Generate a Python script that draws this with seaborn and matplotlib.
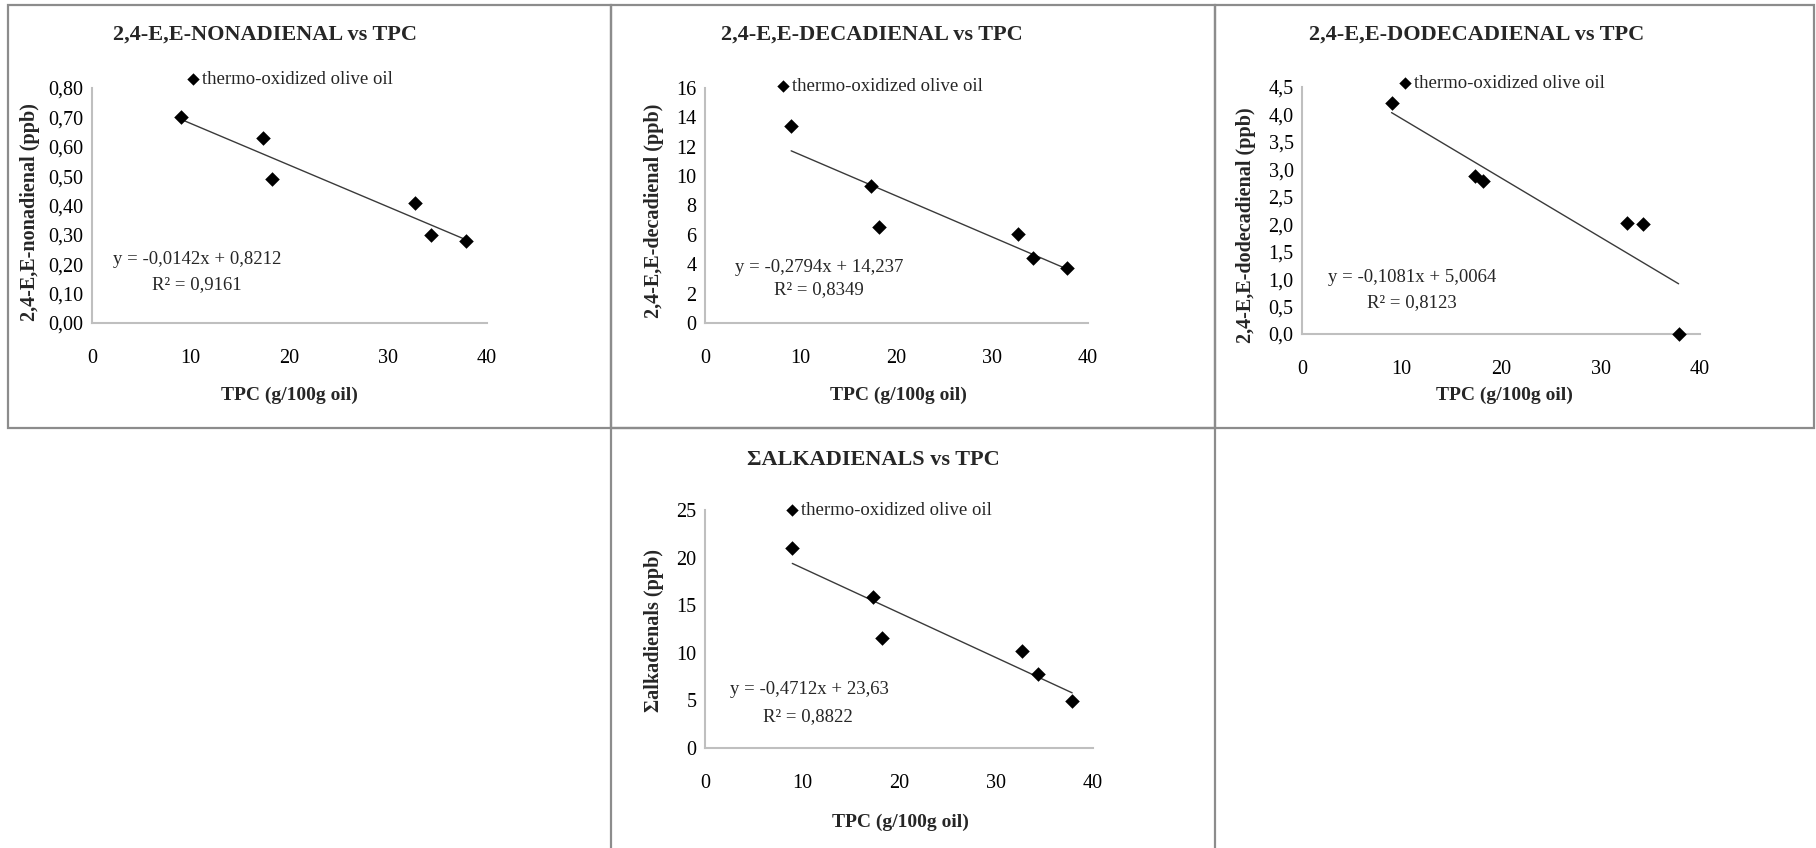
import numpy as np
import pandas as pd
import matplotlib
matplotlib.use("Agg")
import matplotlib.pyplot as plt
from matplotlib.ticker import FuncFormatter, MultipleLocator
from matplotlib.patches import Rectangle
import seaborn as sns

# ---------------- data ----------------
tpc = [9.0, 17.35, 18.2, 32.7, 34.3, 37.85]
nonadienal = [0.70, 0.63, 0.49, 0.41, 0.30, 0.28]
decadienal = [13.4, 9.35, 6.55, 6.05, 4.45, 3.75]
dodecadienal = [4.21, 2.88, 2.78, 2.02, 2.00, 0.0]
alkadienals = [21.05, 15.9, 11.55, 10.2, 7.8, 4.95]

titles = ["2,4-E,E-NONADIENAL vs TPC", "2,4-E,E-DECADIENAL vs TPC",
          "2,4-E,E-DODECADIENAL vs TPC", "\u03a3ALKADIENALS vs TPC"]
ylabels = ["2,4-E,E-nonadienal (ppb)", "2,4-E,E-decadienal (ppb)",
           "2,4-E,E-dodecadienal (ppb)", "\u03a3alkadienals (ppb)"]
xlabel = "TPC (g/100g oil)"
legend_label = "thermo-oxidized olive oil"
slopes = [-0.0142, -0.2794, -0.1081, -0.4712]
intercepts = [0.8212, 14.237, 5.0064, 23.63]
eq_texts = ["y = -0,0142x + 0,8212", "y = -0,2794x + 14,237",
            "y = -0,1081x + 5,0064", "y = -0,4712x + 23,63"]
r2_texts = ["R\u00b2 = 0,9161", "R\u00b2 = 0,8349", "R\u00b2 = 0,8123", "R\u00b2 = 0,8822"]
ymax = [0.8, 16, 4.5, 25]
ystep = [0.1, 2, 0.5, 5]
ydec = [2, 0, 1, 0]
xticks = [0, 10, 20, 30, 40]

series = [nonadienal, decadienal, dodecadienal, alkadienals]

# ---------------- layout (pixels) ----------------
W, H = 1816, 848
sns.set_theme(style="white")
plt.rcParams['font.family'] = ['Liberation Serif', 'DejaVu Serif']

fig = plt.figure(figsize=(W / 100, H / 100), dpi=100)
fig.patch.set_facecolor("white")

def fx(x):
    return x / W

def fy(y):
    return 1 - y / H

# panel boxes: (x0, y0, x1, y1)
boxes = [(8, 5, 611, 428), (611, 5, 1215, 428), (1215, 5, 1814, 428), (611, 428, 1215, 850)]
for (x0, y0, x1, y1) in boxes:
    fig.patches.append(Rectangle((fx(x0), fy(y1)), fx(x1 - x0), (y1 - y0) / H,
                                 transform=fig.transFigure, fill=False,
                                 edgecolor="#8c8c8c", linewidth=1.6, zorder=0))

# axes rectangles (x0, y0, x1, y1)
axes_px = [(92, 88, 487, 323), (705, 88, 1088, 323), (1302, 87, 1700, 334), (705, 510, 1093, 748)]
title_pos = [(265, 35), (872, 35), (1477, 35), (873, 460)]
leg_pos = [(193, 79), (783, 86), (1405, 83), (792, 510)]
ylab_pos = [(30, 212), (654, 211), (1246, 225), (654, 630)]
xlab_pos = [(289, 395), (898, 395), (1504, 395), (900, 822)]
eq_pos = [(197, 260), (819, 267), (1412, 277), (809, 690)]
r2_pos = [(197, 285), (819, 290), (1412, 303), (808, 717)]

axis_color = "#bfbfbf"

for i in range(4):
    x0, y0, x1, y1 = axes_px[i]
    ax = fig.add_axes([fx(x0), fy(y1), fx(x1 - x0), (y1 - y0) / H])
    df = pd.DataFrame({"TPC": tpc, "val": series[i]})
    sns.scatterplot(data=df, x="TPC", y="val", ax=ax, marker="D", s=55,
                    color="black", edgecolor="black", linewidth=0, zorder=3,
                    label=legend_label, clip_on=False)
    xs = np.array([min(tpc), max(tpc)])
    ax.plot(xs, slopes[i] * xs + intercepts[i], color="#3a3a3a", lw=1.0, zorder=2)

    ax.set_xlim(0, 40)
    ax.set_ylim(0, ymax[i])
    ax.set_xticks(xticks)
    ax.yaxis.set_major_locator(MultipleLocator(ystep[i]))
    d = ydec[i]
    ax.yaxis.set_major_formatter(FuncFormatter(lambda v, p, d=d: f"{v:.{d}f}".replace(".", ",")))
    ax.tick_params(axis="x", length=0, pad=19, labelsize=14.5, colors="black")
    ax.tick_params(axis="y", length=0, pad=6, labelsize=14.5, colors="black")
    for s in ["top", "right"]:
        ax.spines[s].set_visible(False)
    for s in ["left", "bottom"]:
        ax.spines[s].set_color(axis_color)
        ax.spines[s].set_linewidth(1.5)
    ax.set_xlabel("")
    ax.set_ylabel("")
    ax.set_facecolor("none")

    lx, ly = leg_pos[i]
    ax.legend(loc="center left", bbox_to_anchor=(fx(lx - 5), fy(ly)),
              bbox_transform=fig.transFigure, frameon=False, fontsize=13.5,
              handlelength=0.5, handletextpad=0.25, borderpad=0, borderaxespad=0,
              markerscale=0.85)

    tx, ty = title_pos[i]
    fig.text(fx(tx), fy(ty), titles[i], ha="center", va="center",
             fontsize=16, fontweight="bold")
    yx, yy = ylab_pos[i]
    fig.text(fx(yx), fy(yy), ylabels[i], ha="center", va="center",
             rotation=90, fontsize=14.5, fontweight="bold")
    xx, xy = xlab_pos[i]
    fig.text(fx(xx), fy(xy), xlabel, ha="center", va="center",
             fontsize=14, fontweight="bold")
    ex, ey = eq_pos[i]
    fig.text(fx(ex), fy(ey), eq_texts[i], ha="center", va="center", fontsize=13.5)
    rx, ry = r2_pos[i]
    fig.text(fx(rx), fy(ry), r2_texts[i], ha="center", va="center", fontsize=13.5)

fig.savefig("out.png", dpi=100, facecolor="white")
